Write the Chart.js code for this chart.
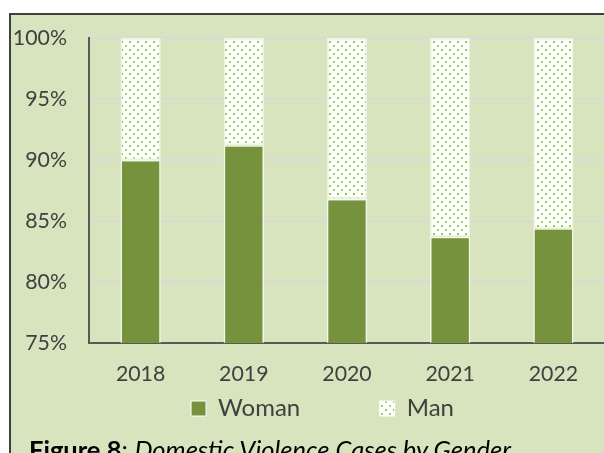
<!DOCTYPE html>
<html>
<head>
<meta charset="utf-8">
<script src="https://cdn.jsdelivr.net/npm/chart.js@4/dist/chart.umd.min.js"></script>
<style>
  html, body { margin: 0; padding: 0; background: #ffffff; width: 604px; height: 453px; overflow: hidden; }
  #frame { position: absolute; left: 9px; top: 13px; width: 700px; height: 600px;
           background: #D7E4BD; border: 2px solid #404040; box-sizing: border-box; }
  #wrap { position: absolute; left: 0; top: 0; width: 605px; height: 453px; }
  #caption { position: absolute; left: 29px; top: 437px; font-family: Lato, sans-serif;
             font-size: 25.5px; line-height: 25px; color: #000; white-space: nowrap; }
</style>
</head>
<body>
<div id="frame"></div>
<div id="wrap"><canvas id="c" width="605" height="453"></canvas></div>
<div id="caption"><b>Figure 8</b>: <i>Domestic Violence Cases by Gender</i></div>
<script>
const years = ['2018', '2019', '2020', '2021', '2022'];
const womanShare = [90.0, 91.2, 86.8, 83.7, 84.4];
const manShare = [10.0, 8.8, 13.2, 16.3, 15.6];
const yTicks = [75, 80, 85, 90, 95, 100];
const seriesNames = ['Woman', 'Man'];

function dotPattern() {
  const t = document.createElement('canvas');
  t.width = 8; t.height = 8;
  const g = t.getContext('2d');
  g.fillStyle = '#ffffff';
  g.fillRect(0, 0, 8, 8);
  g.fillStyle = '#8CCF48';
  g.fillRect(1, 1, 2, 2);
  g.fillStyle = '#9AD75E';
  g.fillRect(5, 5, 2, 2);
  return g.createPattern(t, 'repeat');
}
const manFill = dotPattern();

// shifts the centred legend row to the right (layout only)
const legendShift = {
  id: 'legendShift',
  afterLayout(chart) {
    const lg = chart.legend;
    if (lg && lg.lineWidths && lg.lineWidths.length) lg.lineWidths[0] -= 40;
  }
};

const ctx = document.getElementById('c').getContext('2d');
new Chart(ctx, {
  type: 'bar',
  data: {
    labels: years,
    datasets: [
      { label: seriesNames[0], data: womanShare, backgroundColor: '#76923C',
        borderColor: 'rgba(255,255,255,0.75)', borderWidth: 1.5, borderSkipped: false },
      { label: seriesNames[1], data: manShare, backgroundColor: manFill,
        borderColor: 'rgba(240,246,230,0.9)', borderWidth: 1.5, borderSkipped: false }
    ]
  },
  plugins: [legendShift],
  options: {
    responsive: false,
    animation: false,
    devicePixelRatio: 1,
    layout: { padding: { left: 0, right: 0, top: 38, bottom: 22.5 } },
    datasets: { bar: { categoryPercentage: 1.0, barPercentage: 0.39 } },
    scales: {
      x: {
        stacked: true,
        grid: { display: false, drawTicks: false },
        border: { display: true, color: '#595959', width: 2 },
        ticks: { color: '#404040', font: { family: 'Lato', size: 21.3 }, padding: 18 },
        afterFit: s => { s.height = 45; }
      },
      y: {
        stacked: true,
        min: 75, max: 100,
        afterBuildTicks: s => { s.ticks = yTicks.map(v => ({ value: v })); },
        grid: { color: '#D9D9D9', lineWidth: 2, drawTicks: false },
        border: { display: true, color: '#595959', width: 2 },
        ticks: { color: '#404040', font: { family: 'Lato', size: 21.3 }, padding: 22,
                 callback: v => v + '%' },
        afterFit: s => { s.width = 89; }
      }
    },
    plugins: {
      tooltip: { enabled: false },
      legend: {
        position: 'bottom',
        labels: {
          color: '#404040',
          font: { family: 'Lato', size: 24 },
          boxWidth: 15, boxHeight: 15,
          padding: 8.5,
          generateLabels: chart => {
            const items = Chart.defaults.plugins.legend.labels.generateLabels(chart);
            items.forEach(it => { it.strokeStyle = '#ffffff'; it.lineWidth = 1; });
            const spacer = () => ({ text: '', fillStyle: 'rgba(0,0,0,0)', strokeStyle: 'rgba(0,0,0,0)',
                             lineWidth: 0, hidden: false, datasetIndex: -1 });
            return [items[0], spacer(), spacer(), items[1]];
          }
        },
        onClick: () => {}
      }
    }
  }
});
</script>
</body>
</html>
